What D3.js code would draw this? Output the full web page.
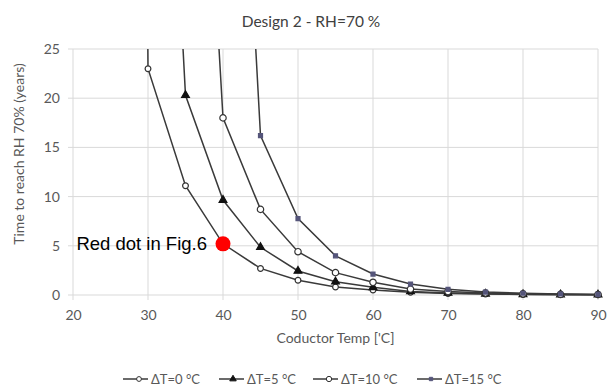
<!DOCTYPE html>
<html lang="en">
<head>
    <meta charset="UTF-8">
    <title>Design 2 - RH=70 %</title>
    <script src="https://cdn.jsdelivr.net/npm/d3@7"></script>
    <style>
        body { margin: 0; background: #fff; }
        text { font-family: Lato, "Open Sans", sans-serif; }
    </style>
</head>
<body>
<script>
    // data (first value of each series is far above the axis and gets clipped)
    let temps = [25, 30, 35, 40, 45, 50, 55, 60, 65, 70, 75, 80, 85, 90]
    let dT0  = [500, 23.0, 11.1, 5.2, 2.7, 1.5, 0.82, 0.5, 0.27, 0.14, 0.09, 0.05, 0.03, 0.02]
    let dT5  = [null, 92, 20.3, 9.65, 4.85, 2.44, 1.35, 0.78, 0.36, 0.2, 0.12, 0.07, 0.04, 0.03]
    let dT10 = [null, null, 84, 18.0, 8.7, 4.4, 2.27, 1.29, 0.6, 0.35, 0.2, 0.12, 0.07, 0.05]
    let dT15 = [null, null, null, 86, 16.2, 7.76, 3.98, 2.13, 1.12, 0.58, 0.3, 0.18, 0.1, 0.06]
    let seriesNames = ["ΔT=0 °C", "ΔT=5 °C", "ΔT=10 °C", "ΔT=15 °C"]
    let xTicks = [20, 30, 40, 50, 60, 70, 80, 90]
    let yTicks = [0, 5, 10, 15, 20, 25]
    let redDot = {x: 40, y: 5.2, label: "Red dot in Fig.6"}

    let W = 613, H = 388
    let mLeft = 73, mRight = 598, mTop = 49, mBottom = 295

    let svg = d3.select('body').append('svg')
        .attr('width', W).attr('height', H)

    let xScale = d3.scaleLinear().domain([20, 90]).range([mLeft, mRight])
    let yScale = d3.scaleLinear().domain([0, 25]).range([mBottom, mTop])

    // gridlines
    svg.append('g').selectAll('line').data(xTicks).enter().append('line')
        .attr('x1', d => xScale(d)).attr('x2', d => xScale(d))
        .attr('y1', mTop).attr('y2', mBottom + 5)
        .attr('stroke', '#d9d9d9').attr('stroke-width', 1)
    svg.append('g').selectAll('line').data(yTicks).enter().append('line')
        .attr('x1', mLeft - 5).attr('x2', mRight)
        .attr('y1', d => yScale(d)).attr('y2', d => yScale(d))
        .attr('stroke', '#d9d9d9').attr('stroke-width', 1)

    // axes (labels only)
    svg.append('g')
        .attr('transform', 'translate(0,' + mBottom + ')')
        .call(d3.axisBottom(xScale).tickValues(xTicks).tickSize(0).tickPadding(15))
    svg.append('g')
        .attr('transform', 'translate(' + mLeft + ',0)')
        .call(d3.axisLeft(yScale).tickValues(yTicks).tickSize(0).tickPadding(13))
    svg.selectAll('.domain').remove()
    svg.selectAll('.tick text')
        .style('font-size', '14px').attr('fill', '#595959')

    // titles
    svg.append('text').attr('x', 311).attr('y', 27)
        .attr('text-anchor', 'middle').style('font-size', '15.5px').attr('fill', '#404040')
        .text('Design 2 - RH=70 %')
    svg.append('text').attr('x', (mLeft + mRight) / 2).attr('y', 343)
        .attr('text-anchor', 'middle').style('font-size', '14px').attr('fill', '#595959')
        .text("Coductor Temp ['C]")
    svg.append('text')
        .attr('transform', 'translate(24,154) rotate(-90)')
        .attr('text-anchor', 'middle').style('font-size', '14px').attr('fill', '#595959')
        .text('Time to reach RH 70% (years)')

    // series
    let allSeries = [dT0, dT5, dT10, dT15]
    let markerStyle = [
        {type: d3.symbolCircle, size: 26, fill: '#fff', stroke: '#333'},
        {type: d3.symbolTriangle, size: 26, fill: '#111', stroke: '#111'},
        {type: d3.symbolCircle, size: 32, fill: '#fff', stroke: '#333'},
        {type: d3.symbolSquare, size: 16, fill: '#55557a', stroke: '#55557a'}
    ]

    svg.append('clipPath').attr('id', 'plotclip')
        .append('rect').attr('x', mLeft - 6).attr('y', mTop)
        .attr('width', mRight - mLeft + 12).attr('height', mBottom - mTop + 8)

    let plot = svg.append('g').attr('clip-path', 'url(#plotclip)')
    let line = d3.line()
        .defined(d => d.v !== null)
        .x(d => xScale(d.t)).y(d => yScale(d.v))

    allSeries.forEach(function (vals, i) {
        let pts = temps.map((t, j) => ({t: t, v: vals[j]}))
        plot.append('path').datum(pts)
            .attr('d', line)
            .attr('fill', 'none').attr('stroke', '#3a3a3a').attr('stroke-width', 1.5)
    })
    allSeries.forEach(function (vals, i) {
        let pts = temps.map((t, j) => ({t: t, v: vals[j]})).filter(d => d.v !== null && d.v <= 25)
        let m = markerStyle[i]
        plot.append('g').selectAll('path').data(pts).enter().append('path')
            .attr('d', d3.symbol().type(m.type).size(m.size))
            .attr('transform', d => 'translate(' + xScale(d.t) + ',' + yScale(d.v) + ')')
            .attr('fill', m.fill).attr('stroke', m.stroke).attr('stroke-width', 1.2)
    })

    // red dot annotation
    svg.append('circle')
        .attr('cx', xScale(redDot.x)).attr('cy', yScale(redDot.y)).attr('r', 7.5)
        .attr('fill', '#ff0000')
    svg.append('text')
        .attr('x', xScale(redDot.x) - 16).attr('y', yScale(redDot.y) + 6)
        .attr('text-anchor', 'end')
        .style('font-family', 'Liberation Sans, Arial, sans-serif').style('font-size', '18.5px')
        .attr('fill', '#000')
        .text(redDot.label)

    // legend
    let legendX = [123, 219, 313, 417]
    let legendY = 379
    seriesNames.forEach(function (name, i) {
        let g = svg.append('g').attr('transform', 'translate(' + legendX[i] + ',' + legendY + ')')
        g.append('line').attr('x1', 0).attr('x2', 25).attr('y1', 0).attr('y2', 0)
            .attr('stroke', '#3a3a3a').attr('stroke-width', 1.5)
        let m = markerStyle[i]
        g.append('path')
            .attr('d', d3.symbol().type(m.type).size(m.size * 0.7))
            .attr('transform', 'translate(' + (i == 0 || i == 2 ? 16 : 14) + ',0)')
            .attr('fill', m.fill).attr('stroke', m.stroke).attr('stroke-width', 1)
        g.append('text').attr('x', 28).attr('y', 4.5)
            .style('font-size', '13px').attr('fill', '#595959')
            .text(name)
    })
</script>
</body>
</html>
